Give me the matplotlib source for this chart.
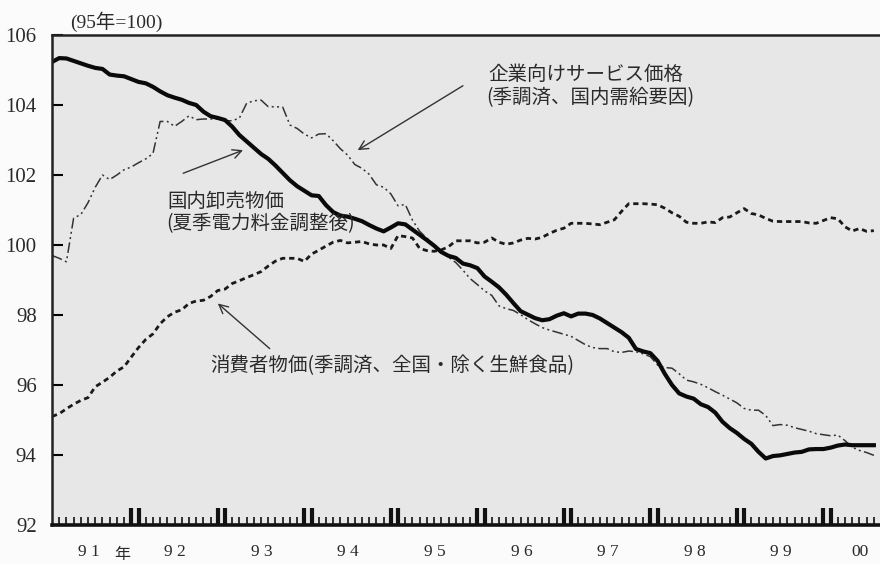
import numpy as np
import matplotlib
matplotlib.use("Agg")
from matplotlib import pyplot as plt
from matplotlib import transforms

# monthly data, Jan 1991 - Jul 2000 (95 = 100)
wpi = [105.23, 105.34, 105.33, 105.26, 105.19, 105.12, 105.06, 105.03, 104.87, 104.84, 104.82, 104.74,
       104.66, 104.62, 104.52, 104.39, 104.28, 104.21, 104.15, 104.06, 104.00, 103.81, 103.68, 103.63,
       103.57, 103.38, 103.14, 102.96, 102.78, 102.60, 102.46, 102.27, 102.06, 101.85, 101.68, 101.55,
       101.42, 101.40, 101.14, 100.94, 100.84, 100.81, 100.75, 100.68, 100.57, 100.47, 100.39, 100.50,
       100.62, 100.59, 100.44, 100.29, 100.14, 99.98, 99.80, 99.69, 99.63, 99.47, 99.42, 99.34,
       99.10, 98.95, 98.79, 98.58, 98.34, 98.11, 98.01, 97.91, 97.85, 97.88, 97.98, 98.05,
       97.96, 98.04, 98.04, 98.00, 97.90, 97.77, 97.64, 97.51, 97.35, 97.03, 96.96, 96.91,
       96.69, 96.32, 96.00, 95.76, 95.67, 95.61, 95.45, 95.37, 95.21, 94.95, 94.77, 94.63,
       94.46, 94.32, 94.09, 93.90, 93.97, 93.99, 94.03, 94.07, 94.09, 94.16, 94.17, 94.17,
       94.21, 94.27, 94.30, 94.28, 94.28, 94.28, 94.28]

cspi = [99.70, 99.62, 99.52, 100.77, 100.87, 101.21, 101.65, 102.00, 101.87, 102.00, 102.15, 102.23,
        102.35, 102.46, 102.61, 103.53, 103.53, 103.39, 103.53, 103.69, 103.58, 103.60, 103.60, 103.60,
        103.55, 103.55, 103.63, 104.05, 104.12, 104.14, 103.95, 103.95, 103.94, 103.43, 103.33, 103.17,
        103.06, 103.17, 103.18, 102.98, 102.75, 102.57, 102.30, 102.19, 102.02, 101.72, 101.65, 101.46,
        101.12, 101.16, 100.71, 100.39, 100.19, 100.02, 99.79, 99.65, 99.50, 99.28, 99.04, 98.87,
        98.69, 98.56, 98.26, 98.18, 98.13, 98.01, 97.87, 97.75, 97.64, 97.57, 97.51, 97.45,
        97.39, 97.27, 97.15, 97.07, 97.04, 97.04, 96.95, 96.93, 96.97, 96.95, 96.89, 96.81,
        96.57, 96.50, 96.48, 96.32, 96.14, 96.09, 96.02, 95.92, 95.81, 95.71, 95.60, 95.49,
        95.33, 95.28, 95.28, 95.13, 94.84, 94.87, 94.85, 94.78, 94.73, 94.68, 94.61, 94.58,
        94.55, 94.57, 94.41, 94.22, 94.13, 94.07, 93.99]

cpi = [95.10, 95.18, 95.32, 95.45, 95.56, 95.64, 95.95, 96.08, 96.22, 96.40, 96.52, 96.80,
       97.07, 97.30, 97.46, 97.75, 97.95, 98.08, 98.15, 98.33, 98.40, 98.42, 98.53, 98.70,
       98.74, 98.90, 98.98, 99.07, 99.15, 99.24, 99.40, 99.54, 99.62, 99.62, 99.62, 99.53,
       99.74, 99.85, 99.97, 100.08, 100.13, 100.06, 100.08, 100.10, 100.03, 100.00, 100.00, 99.90,
       100.27, 100.24, 100.20, 99.90, 99.84, 99.82, 99.86, 99.95, 100.12, 100.12, 100.12, 100.06,
       100.08, 100.20, 100.08, 100.02, 100.06, 100.14, 100.19, 100.17, 100.22, 100.33, 100.42, 100.48,
       100.62, 100.62, 100.62, 100.60, 100.58, 100.65, 100.72, 100.96, 101.18, 101.18, 101.18, 101.17,
       101.15, 101.05, 100.92, 100.82, 100.65, 100.62, 100.62, 100.66, 100.64, 100.78, 100.80, 100.92,
       101.04, 100.90, 100.86, 100.76, 100.68, 100.67, 100.67, 100.67, 100.67, 100.63, 100.62, 100.70,
       100.78, 100.75, 100.52, 100.40, 100.47, 100.39, 100.41]

year_labels = ["9 1", "9 2", "9 3", "9 4", "9 5", "9 6", "9 7", "9 8", "9 9", "00"]
yticks = [92, 94, 96, 98, 100, 102, 104, 106]

JP = ["Noto Sans CJK JP"]
SERIF = ["Liberation Serif", "Noto Sans CJK JP"]
TXT = "#2a2a2a"

plt.rcParams["font.family"] = SERIF

t = np.arange(len(wpi))  # month index, 0 = Jan 1991

fig = plt.figure(figsize=(8.8, 5.64), dpi=100, facecolor="#fbfbfb")
ax = fig.add_axes([52 / 880, 39 / 564, 828 / 880, 490 / 564])
ax.set_facecolor("#e7e7e7")

ax.plot(t, cpi, color="#1a1a1a", lw=2.0, dashes=(1.9, 1.4))
ax.plot(t, cspi, color="#333333", lw=1.1, dashes=(7, 2.2, 1.3, 2.2, 1.3, 2.2))
ax.plot(t, wpi, color="#0a0a0a", lw=3.0, solid_joinstyle="round")

ax.set_xlim(0, 114.85)
ax.set_ylim(92, 106)

# y axis
ax.set_yticks(yticks)
ax.set_yticklabels([str(v) for v in yticks], fontsize=15, color=TXT)
ax.tick_params(axis="y", direction="in", length=8, width=1.5, pad=11, left=True, right=False)

# x axis: monthly ticks, thick double ticks at Dec / Jan
major = [i for i in t if i % 12 in (11, 0) and i > 0]
minor = [i for i in t if i % 12 not in (11, 0)]
ax.set_xticks(major)
ax.set_xticks(minor, minor=True)
ax.set_xticklabels([])
ax.tick_params(axis="x", which="major", direction="in", length=12, width=3, color="#111")
ax.tick_params(axis="x", which="minor", direction="in", length=6, width=1.3, color="#222")

trans = transforms.blended_transform_factory(ax.transData, ax.transAxes)
label_pos = [12 * k + 5.1 for k in range(9)] + [112.1]
for x, lab in zip(label_pos, year_labels):
    ax.text(x, -27 / 490, lab, transform=trans, ha="center", va="center",
            fontsize=12.5, color=TXT, clip_on=False)
ax.text(9.8, -29 / 490, "年", transform=trans, ha="center", va="center",
        fontsize=11.5, color=TXT, family=JP, clip_on=False)

for side in ["left", "top"]:
    ax.spines[side].set_linewidth(1.8)
    ax.spines[side].set_color("#222")
ax.spines["bottom"].set_linewidth(2.6)
ax.spines["bottom"].set_color("#111")
ax.spines["right"].set_visible(False)

fig.text(70 / 880, 1 - 22 / 564, "(95年=100)", fontsize=14, color=TXT,
         ha="left", va="center", family=SERIF)

# annotations
ax.text(60.5, 104.86, "企業向けサービス価格", fontsize=14, color=TXT, family=JP, va="center")
ax.text(60.3, 104.2, "(季調済、国内需給要因)", fontsize=14, color=TXT, family=JP, va="center")
ax.text(16.0, 101.25, "国内卸売物価", fontsize=14, color=TXT, family=JP, va="center")
ax.text(15.8, 100.62, "(夏季電力料金調整後)", fontsize=14, color=TXT, family=JP, va="center")
ax.text(21.9, 96.55, "消費者物価(季調済、全国・除く生鮮食品)", fontsize=14, color=TXT,
        family=JP, va="center")

arrow = dict(arrowstyle="->", lw=1.0, color="#333", mutation_scale=16, shrinkA=0, shrinkB=0)
ax.annotate("", xy=(42.4, 102.71), xytext=(57.0, 104.55), arrowprops=arrow)
ax.annotate("", xy=(26.5, 102.71), xytext=(18.2, 102.05), arrowprops=arrow)
ax.annotate("", xy=(23.0, 98.33), xytext=(30.2, 97.04), arrowprops=arrow)

fig.savefig("out.png", dpi=100, facecolor=fig.get_facecolor())
